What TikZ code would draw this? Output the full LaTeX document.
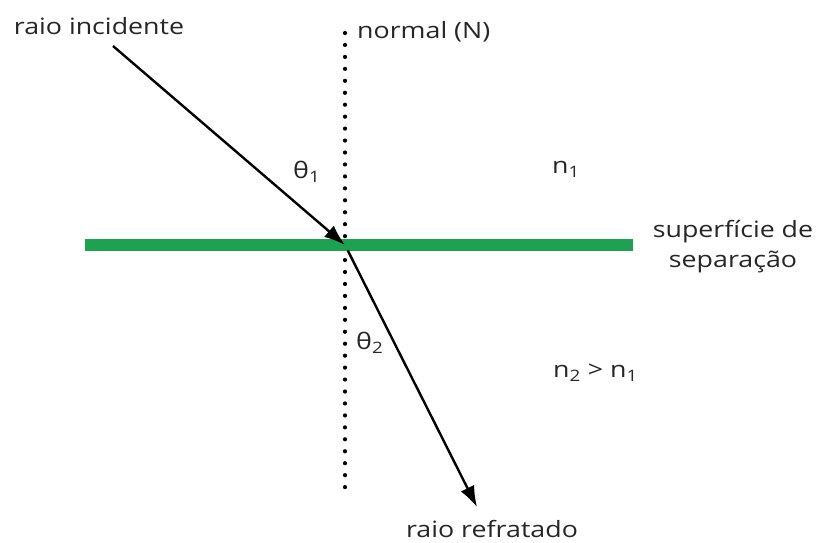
\documentclass[tikz,border=0pt]{standalone}
\usepackage{fontspec}
\setmainfont[FakeStretch=1.19]{Open Sans}
\usetikzlibrary{arrows.meta}
\definecolor{superf}{RGB}{32,160,82}
\tikzset{
  raio/.style={line width=2.4pt,-{Latex[length=21pt,width=15pt]}},
  rotulo/.style={font=\fontsize{22.5}{30}\selectfont,text=black!85,inner sep=0pt}
}

\begin{document}
\begin{tikzpicture}[x=1pt,y=-1pt]
\useasboundingbox (0,0) rectangle (816,542);
% normal and surface
\coordinate (Ntop) at (345,33);
\coordinate (Nbot) at (345,492);
\coordinate (Sleft) at (85,245);
\coordinate (Sright) at (633,245);
\coordinate (O) at (345,245);
\draw[line width=4.2pt,line cap=round,dash pattern=on 0pt off 11.95pt] (Ntop) -- (Nbot);
\draw[superf,line width=12pt] (Sleft) -- (Sright);
% rays
\coordinate (inc) at (113,46);
\coordinate (ref) at (477,507);
\draw[raio] (inc) -- (O);
\draw[raio,shorten <=6pt] (O) -- (ref);
% labels
\node[rotulo,anchor=base] (lblinc) at (99,34) {raio incidente};
\node[rotulo,anchor=base west] (lblnormal) at (357,38) {normal (N)};
\node[rotulo,anchor=base west] (theta1) at (293,178) {θ\textsubscript{1}};
\node[rotulo,anchor=base west] (n1) at (552,173) {n\textsubscript{1}};
\node[rotulo,align=center] (lblsup) at (733,247) {superfície de\\separação};
\node[rotulo,anchor=base west] (theta2) at (356,349) {θ\textsubscript{2}};
\node[rotulo,anchor=base west] (n2) at (553,377) {n\textsubscript{2} > n\textsubscript{1}};
\node[rotulo,anchor=base] (lblref) at (492,537) {raio refratado};
\end{tikzpicture}
\end{document}
